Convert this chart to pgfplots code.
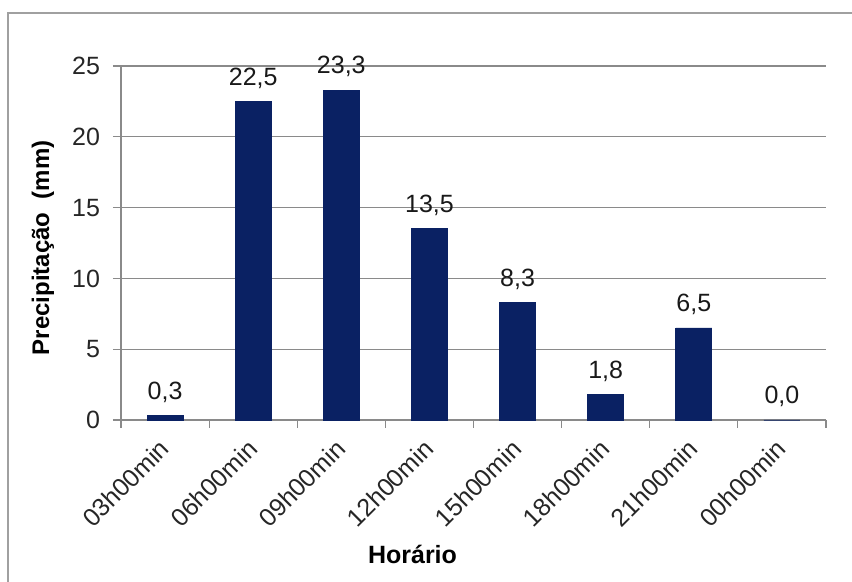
\documentclass[border=0pt]{standalone}
\usepackage{pgfplots}
\pgfplotsset{compat=1.18}
\usepackage{fontspec}
\setmainfont{Liberation Sans}
\definecolor{barblue}{HTML}{0A2163}
\definecolor{gridgray}{HTML}{8A8A8A}
\definecolor{framegray}{HTML}{A0A0A0}
\begin{document}
\begin{tikzpicture}
\useasboundingbox (-60.5pt,-81pt) rectangle (365.5pt,210pt);
% outer chart frame (left and top edges)
\draw[framegray, line width=0.9pt] (-56.5pt,-90pt) -- (-56.5pt,203.5pt) -- (375pt,203.5pt);
\begin{axis}[
  scale only axis,
  width=352.5pt, height=177pt,
  ybar, bar width=18pt, bar shift=0pt,
  xmin=-0.5, xmax=7.5,
  ymin=0, ymax=25,
  ytick={0,5,...,25},
  xtick={0,...,7},
  xticklabels={03h00min,06h00min,09h00min,12h00min,15h00min,18h00min,21h00min,00h00min},
  minor xtick={-0.5,0.5,...,7.5},
  major x tick style={draw=none},
  tick align=outside,
  major tick length=4pt,
  minor tick length=4pt,
  tick style={gridgray, line width=0.6pt},
  axis x line*=bottom,
  axis y line*=left,
  axis line style={gridgray, line width=0.6pt, -},
  ymajorgrids,
  grid style={gridgray, line width=0.6pt},
  /pgf/number format/assume math mode=true,
  tick label style={font=\fontsize{12.5}{14}\selectfont, text=black!85},
  xticklabel style={rotate=45, anchor=north east, inner sep=0pt, xshift=-5.8pt, yshift=-0.8pt},
  yticklabel style={xshift=-3pt},
  ylabel={\textbf{Precipitação\ \ (mm)}},
  ylabel style={font=\fontsize{12}{14}\selectfont, at={(axis description cs:-0.1106,0.486)}, anchor=center},
  xlabel={\textbf{Horário}},
  xlabel style={font=\fontsize{12.5}{14}\selectfont, at={(axis description cs:0.4135,-0.381)}, anchor=center},
  nodes near coords,
  nodes near coords style={font=\fontsize{12.5}{14}\selectfont, text=black!90, anchor=south, yshift=3pt,
    /pgf/number format/.cd, fixed, fixed zerofill, precision=1, use comma, assume math mode=true},
  clip=false,
]
\addplot[fill=barblue, draw=barblue] coordinates {
  (0,0.3) (1,22.5) (2,23.3) (3,13.5) (4,8.3) (5,1.8) (6,6.5) (7,0.0)
};
\end{axis}
\end{tikzpicture}
\end{document}
